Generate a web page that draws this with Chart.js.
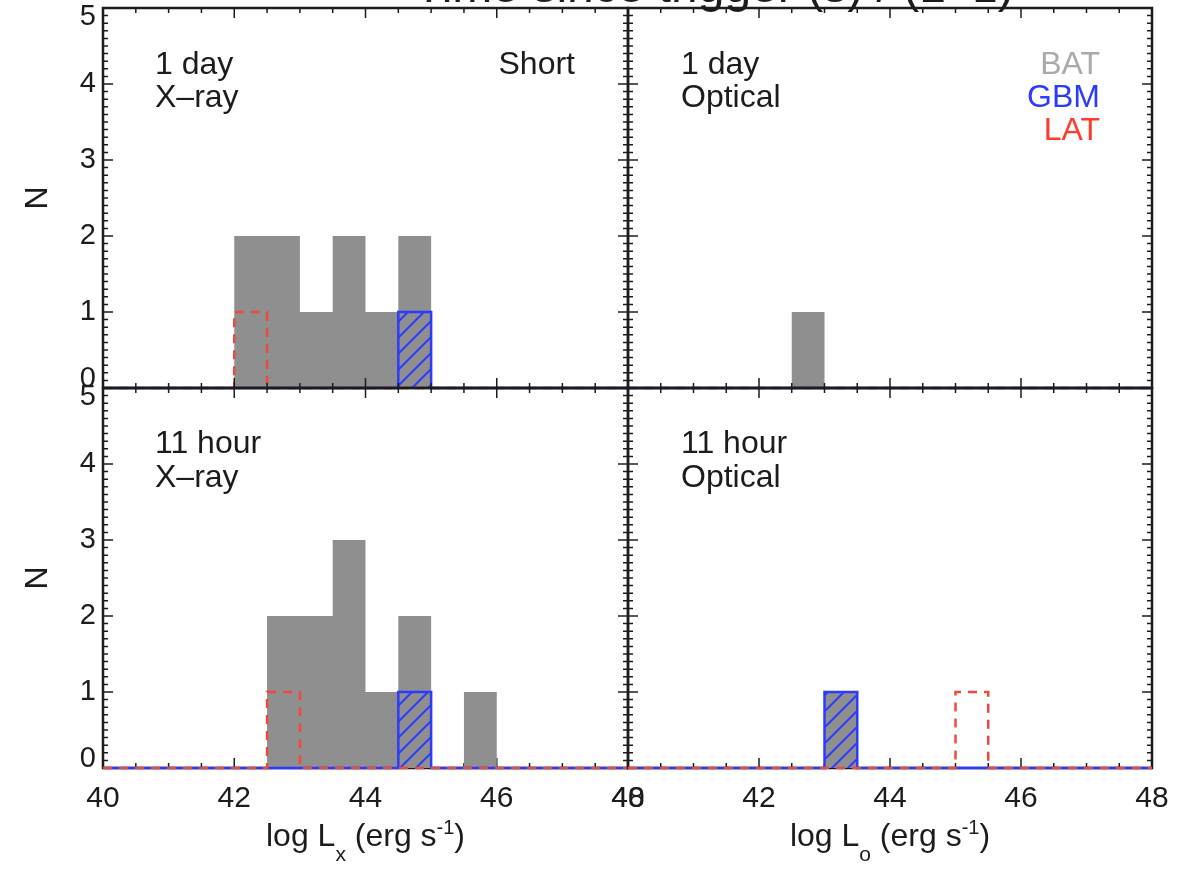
<!DOCTYPE html>
<html>
<head>
<meta charset="utf-8">
<title>Luminosity histograms</title>
<script src="https://cdn.jsdelivr.net/npm/chart.js@4.4.1/dist/chart.umd.min.js"></script>
<style>
    html, body { margin: 0; padding: 0; background: #fff; }
    #wrap { position: relative; width: 1190px; height: 871px; overflow: hidden; }
    #wrap canvas { position: absolute; left: 0; top: 0; }
</style>
</head>
<body>
<div id="wrap">
    <canvas id="xray-1day" width="1190" height="871"></canvas>
    <canvas id="optical-1day" width="1190" height="871"></canvas>
    <canvas id="xray-11hour" width="1190" height="871"></canvas>
    <canvas id="optical-11hour" width="1190" height="871"></canvas>
</div>
<script>
// Bin left edges (log L, bins 0.5 wide) and axis ticks
const binEdges = [40, 40.5, 41, 41.5, 42, 42.5, 43, 43.5, 44, 44.5, 45, 45.5, 46, 46.5, 47, 47.5];
const binWidth = 0.5;
const xTicks = [40, 42, 44, 46, 48];
const yTicks = [0, 1, 2, 3, 4, 5];

// 1 day, X-ray
const xray1dBAT = [0, 0, 0, 0, 2, 2, 1, 2, 1, 2, 0, 0, 0, 0, 0, 0];
const xray1dGBM = [0, 0, 0, 0, 0, 0, 0, 0, 0, 1, 0, 0, 0, 0, 0, 0];
const xray1dLAT = [0, 0, 0, 0, 1, 0, 0, 0, 0, 0, 0, 0, 0, 0, 0, 0];

// 1 day, optical
const optical1dBAT = [0, 0, 0, 0, 0, 1, 0, 0, 0, 0, 0, 0, 0, 0, 0, 0];
const optical1dGBM = [0, 0, 0, 0, 0, 0, 0, 0, 0, 0, 0, 0, 0, 0, 0, 0];
const optical1dLAT = [0, 0, 0, 0, 0, 0, 0, 0, 0, 0, 0, 0, 0, 0, 0, 0];

// 11 hour, X-ray
const xray11hBAT = [0, 0, 0, 0, 0, 2, 2, 3, 1, 2, 0, 1, 0, 0, 0, 0];
const xray11hGBM = [0, 0, 0, 0, 0, 0, 0, 0, 0, 1, 0, 0, 0, 0, 0, 0];
const xray11hLAT = [0, 0, 0, 0, 0, 1, 0, 0, 0, 0, 0, 0, 0, 0, 0, 0];

// 11 hour, optical
const optical11hBAT = [0, 0, 0, 0, 0, 0, 0, 0, 0, 0, 0, 0, 0, 0, 0, 0];
const optical11hGBM = [0, 0, 0, 0, 0, 0, 1, 0, 0, 0, 0, 0, 0, 0, 0, 0];
const optical11hLAT = [0, 0, 0, 0, 0, 0, 0, 0, 0, 0, 1, 0, 0, 0, 0, 0];

const FONT = '"Liberation Sans", Arial, Helvetica, sans-serif';
const INK = '#1c1c1c';
const GRAY = '#8f8f8f';
const BLUE = '#2b3cff';
const RED = '#ee4a3c';

/**
 * Turn bin counts into step points (left edge of each bin, then the last right edge)
 */
function stepPoints(counts) {
    const pts = counts.map((n, i) => ({ x: binEdges[i], y: n }));
    pts.push({ x: binEdges[binEdges.length - 1] + binWidth, y: 0 });
    return pts;
}

/**
 * Gray background with blue "/" hatching, used for GBM bars
 */
function makeHatch() {
    const size = 16;
    const c = document.createElement('canvas');
    c.width = size;
    c.height = size;
    const g = c.getContext('2d');
    g.fillStyle = GRAY;
    g.fillRect(0, 0, size, size);
    g.strokeStyle = BLUE;
    g.lineWidth = 2;
    g.beginPath();
    g.moveTo(-4, size + 4); g.lineTo(size + 4, -4);
    g.moveTo(-4, 4); g.lineTo(4, -4);
    g.moveTo(size - 4, size + 4); g.lineTo(size + 4, size - 4);
    g.stroke();
    return g.createPattern(c, 'repeat');
}

const hatch = makeHatch();

function buildDatasets(bat, gbm, lat) {
    // BAT last so it is drawn underneath the others
    return [
        {
            label: 'LAT',
            data: stepPoints(lat),
            stepped: 'before',
            fill: false,
            borderColor: RED,
            borderWidth: 2.5,
            borderDash: [9, 7],
            clip: 4
        },
        {
            label: 'GBM',
            data: stepPoints(gbm),
            stepped: 'before',
            fill: 'origin',
            backgroundColor: hatch,
            borderColor: BLUE,
            borderWidth: 2.5,
            clip: 4
        },
        {
            label: 'BAT',
            data: stepPoints(bat),
            stepped: 'before',
            fill: 'origin',
            backgroundColor: GRAY,
            borderColor: 'rgba(0,0,0,0)',
            borderWidth: 0,
            clip: 4
        }
    ];
}

function drawText(ctx, parts, cx, baseline) {
    // parts: [text, size, dy]
    let total = 0;
    parts.forEach(p => {
        ctx.font = p[1] + 'px ' + FONT;
        total += ctx.measureText(p[0]).width;
    });
    let x = cx - total / 2;
    ctx.textAlign = 'left';
    ctx.textBaseline = 'alphabetic';
    parts.forEach(p => {
        ctx.font = p[1] + 'px ' + FONT;
        ctx.fillText(p[0], x, baseline + p[2]);
        x += ctx.measureText(p[0]).width;
    });
}

/**
 * Frame with IDL style inward ticks, panel notes and axis title
 */
function panelPlugin(cfg) {
    function drawFrame(chart) {
        const ctx = chart.ctx;
        const { left, right, top, bottom } = chart.chartArea;
        const xs = chart.scales.x;
        const ys = chart.scales.y;
        ctx.save();
        ctx.strokeStyle = INK;
        ctx.lineWidth = 2.5;
        ctx.strokeRect(left, top, right - left, bottom - top);
        ctx.lineWidth = 1.5;
        ctx.beginPath();
        for (let v = xs.min; v <= xs.max + 1e-9; v += 0.5) {
            const px = xs.getPixelForValue(v);
            const len = Math.abs(v / 2 - Math.round(v / 2)) < 1e-6 ? 10 : 5;
            ctx.moveTo(px, bottom); ctx.lineTo(px, bottom - len);
            ctx.moveTo(px, top); ctx.lineTo(px, top + len);
        }
        for (let k = 0; k <= (ys.max - ys.min) * 10; k++) {
            const v = ys.min + k / 10;
            const py = ys.getPixelForValue(v);
            const len = k % 10 === 0 ? 10 : 5;
            ctx.moveTo(left, py); ctx.lineTo(left + len, py);
            ctx.moveTo(right, py); ctx.lineTo(right - len, py);
        }
        ctx.stroke();
        ctx.restore();
    }

    return {
        id: 'panel',
        beforeDraw(chart) {
            // keep the end labels of N inside the panel, as in the original
            const ys = chart.scales.y;
            if (!ys.options.display) return;
            const items = ys.getLabelItems();
            items.forEach((item, i) => {
                if (item._nudged) return;
                if (i === 0) item.options.translation[1] -= 9;
                if (i === items.length - 1) item.options.translation[1] += 9;
                item._nudged = true;
            });
        },
        beforeDatasetsDraw(chart) {
            if (!cfg.frameOnTop) drawFrame(chart);
        },
        afterDatasetsDraw(chart) {
            if (cfg.frameOnTop) drawFrame(chart);
        },
        afterDraw(chart) {
            const ctx = chart.ctx;
            const { left, right, top } = chart.chartArea;
            ctx.save();
            ctx.font = '32px ' + FONT;
            ctx.textBaseline = 'alphabetic';
            cfg.notes.forEach(n => {
                ctx.fillStyle = n.color || INK;
                ctx.textAlign = n.align;
                const x = n.align === 'right' ? right - n.dx : left + n.dx;
                ctx.fillText(n.text, x, top + n.dy);
            });
            ctx.fillStyle = INK;
            if (cfg.xTitle) {
                drawText(ctx, [
                    ['log L', 32, 0],
                    [cfg.xTitle, 21, 15],
                    [' (erg s', 32, 0],
                    ['-1', 20, -12],
                    [')', 32, 0]
                ], (left + right) / 2, 846);
            }
            if (cfg.title) {
                ctx.font = '48px ' + FONT;
                ctx.textAlign = 'center';
                ctx.fillText(cfg.title, 714, 2);
            }
            ctx.restore();
        }
    };
}

function makeChart(id, datasets, cfg) {
    return new Chart(document.getElementById(id), {
        type: 'line',
        data: { datasets: datasets },
        options: {
            responsive: false,
            animation: false,
            events: [],
            layout: { padding: cfg.padding },
            elements: { point: { radius: 0 }, line: { tension: 0 } },
            plugins: { legend: { display: false }, tooltip: { enabled: false } },
            scales: {
                x: {
                    type: 'linear',
                    min: xTicks[0],
                    max: xTicks[xTicks.length - 1],
                    display: cfg.showX,
                    grid: { display: false, drawTicks: false },
                    border: { display: false },
                    afterBuildTicks: s => { s.ticks = xTicks.map(v => ({ value: v })); },
                    ticks: { padding: 13, maxRotation: 0, autoSkip: false, color: INK, font: { family: FONT, size: 30 } },
                    afterFit: s => {
                        if (!s.options.display) return;
                        s.height = 60;
                        s.paddingLeft = 0;
                        s.paddingRight = 0;
                    }
                },
                y: {
                    type: 'linear',
                    min: yTicks[0],
                    max: yTicks[yTicks.length - 1],
                    display: cfg.showY,
                    grid: { display: false, drawTicks: false },
                    border: { display: false },
                    afterBuildTicks: s => { s.ticks = yTicks.map(v => ({ value: v })); },
                    ticks: { padding: 7, color: INK, font: { family: FONT, size: 29 } },
                    title: { display: true, text: 'N', color: INK, padding: 0, font: { family: FONT, size: 32 } },
                    afterFit: s => {
                        if (!s.options.display) return;
                        s.width = 84;
                        s.paddingTop = 0;
                        s.paddingBottom = 0;
                    }
                }
            }
        },
        plugins: [panelPlugin(cfg)]
    });
}

document.addEventListener('DOMContentLoaded', function() {
    makeChart('xray-1day', buildDatasets(xray1dBAT, xray1dGBM, xray1dLAT), {
        padding: { left: 19, right: 562, top: 8, bottom: 483 },
        showX: false, showY: true, frameOnTop: true,
        title: 'Time since trigger (s) / (1+z)',
        notes: [
            { text: '1 day', dx: 52, dy: 66, align: 'left' },
            { text: 'X\u2013ray', dx: 52, dy: 99, align: 'left' },
            { text: 'Short', dx: 53, dy: 66, align: 'right' }
        ]
    });

    makeChart('optical-1day', buildDatasets(optical1dBAT, optical1dGBM, optical1dLAT), {
        padding: { left: 628, right: 38, top: 8, bottom: 483 },
        showX: false, showY: false, frameOnTop: true,
        notes: [
            { text: '1 day', dx: 53, dy: 66, align: 'left' },
            { text: 'Optical', dx: 53, dy: 99, align: 'left' },
            { text: 'BAT', dx: 52, dy: 66, align: 'right', color: '#aaaaaa' },
            { text: 'GBM', dx: 52, dy: 99, align: 'right', color: BLUE },
            { text: 'LAT', dx: 52, dy: 132, align: 'right', color: '#ff3b2a' }
        ]
    });

    makeChart('xray-11hour', buildDatasets(xray11hBAT, xray11hGBM, xray11hLAT), {
        padding: { left: 19, right: 562, top: 388, bottom: 43 },
        showX: true, showY: true, frameOnTop: false,
        xTitle: 'x',
        notes: [
            { text: '11 hour', dx: 52, dy: 65, align: 'left' },
            { text: 'X\u2013ray', dx: 52, dy: 99, align: 'left' }
        ]
    });

    makeChart('optical-11hour', buildDatasets(optical11hBAT, optical11hGBM, optical11hLAT), {
        padding: { left: 628, right: 38, top: 388, bottom: 43 },
        showX: true, showY: false, frameOnTop: false,
        xTitle: 'o',
        notes: [
            { text: '11 hour', dx: 53, dy: 65, align: 'left' },
            { text: 'Optical', dx: 53, dy: 99, align: 'left' }
        ]
    });
});
</script>
</body>
</html>
